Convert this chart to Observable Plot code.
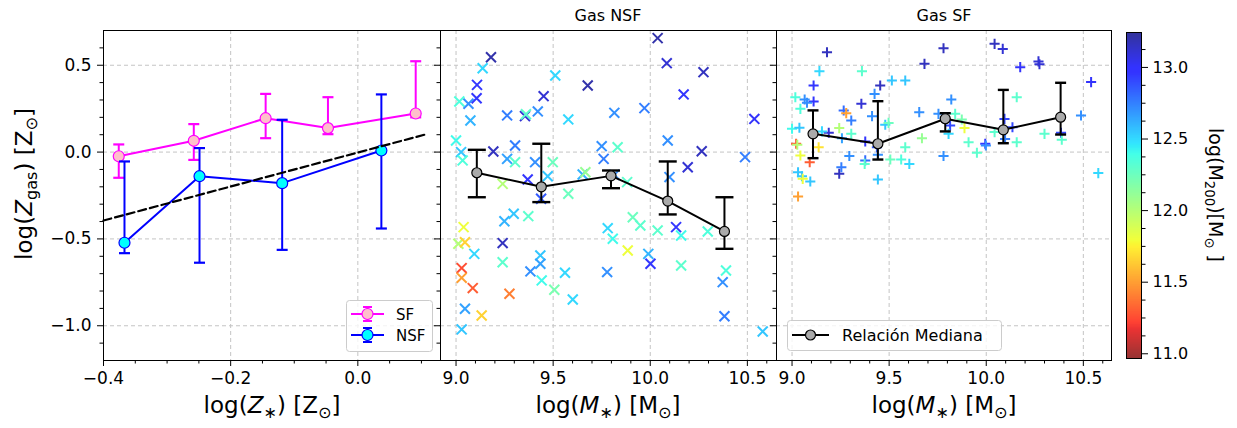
<!DOCTYPE html>
<html><head><meta charset="utf-8">
<script src="https://cdn.jsdelivr.net/npm/d3@7"></script>
<script src="https://cdn.jsdelivr.net/npm/@observablehq/plot@0.6"></script>
<style>
body{margin:0;background:#fff;font-family:"DejaVu Sans",sans-serif;}
#wrap{position:relative;width:1237px;height:428px;overflow:hidden;background:#fff;}
.lbl{position:absolute;white-space:nowrap;color:#000;line-height:1;font-family:"DejaVu Sans",sans-serif;}
.lbl sub{font-size:70%;vertical-align:baseline;position:relative;top:0.32em;}
</style></head><body><div id="wrap"></div><script>
// ---------- Left panel data: log(Z*) vs log(Zgas) ----------
const sfZstar = [-0.376, -0.258, -0.145, -0.047, 0.091];
const sfZgas  = [-0.024, 0.065, 0.195, 0.138, 0.222];
const sfLo    = [-0.148, -0.045, 0.080, 0.103, 0.200];
const sfHi    = [0.044, 0.161, 0.335, 0.316, 0.523];

const nsfZstar = [-0.367, -0.249, -0.119, 0.037];
const nsfZgas  = [-0.522, -0.139, -0.179, 0.009];
const nsfLo    = [-0.582, -0.637, -0.563, -0.440];
const nsfHi    = [-0.054, 0.023, 0.186, 0.332];

const refLineX = [-0.4, 0.11];
const refLineY = [-0.394, 0.105];

// ---------- Middle panel: Gas NSF scatter ----------
const nsfMass = [10.038,9.180,9.137,9.511,10.085,10.274,9.108,9.678,9.106,9.451,10.172,9.017,9.064,9.074,9.263,9.355,9.360,9.421,9.578,9.815,9.970,10.536,9.000,9.026,9.034,9.192,9.304,9.263,9.304,9.407,9.472,9.498,9.369,9.240,9.750,9.832,9.760,9.652,9.666,9.815,9.881,9.578,9.438,10.090,10.265,10.193,10.099,10.488,9.039,9.249,9.297,9.372,9.012,9.046,9.240,9.094,9.781,9.807,9.910,9.949,10.038,10.133,10.159,10.296,9.884,9.990,10.001,9.029,9.029,9.086,9.240,9.275,9.383,9.434,9.434,9.441,9.506,9.561,9.601,9.778,10.159,10.390,10.373,9.046,9.132,10.382,9.029,10.579];
const nsfGasZ = [0.656,0.546,0.483,0.441,0.512,0.460,0.387,0.383,0.310,0.322,0.332,0.291,0.278,0.182,0.211,0.207,0.218,0.234,0.188,0.226,0.253,0.191,0.067,0.000,-0.048,0.003,0.038,-0.039,-0.058,-0.058,-0.139,-0.058,-0.158,-0.183,0.034,0.028,-0.039,-0.129,-0.116,-0.131,-0.173,-0.240,-0.269,0.067,0.005,-0.087,-0.144,-0.029,-0.432,-0.398,-0.355,-0.369,-0.528,-0.519,-0.524,-0.586,-0.438,-0.499,-0.375,-0.423,-0.451,-0.432,-0.480,-0.457,-0.567,-0.586,-0.643,-0.668,-0.724,-0.783,-0.634,-0.816,-0.687,-0.595,-0.643,-0.739,-0.793,-0.695,-0.849,-0.691,-0.653,-0.682,-0.749,-0.902,-0.941,-0.945,-1.021,-1.033];
const nsfM200 = [13.2,13.2,12.5,12.5,13.1,13.15,12.95,13.2,12.95,13.1,12.95,12.35,12.7,12.6,12.75,13.1,12.3,12.7,12.5,12.7,12.75,13.0,12.4,12.55,12.35,13.15,12.75,12.65,12.3,12.7,12.55,12.25,12.95,12.0,12.7,12.3,12.75,12.6,12.1,12.7,12.3,12.25,12.85,12.7,13.15,13.1,12.7,12.75,11.8,12.6,12.55,12.3,12.0,11.65,13.15,12.5,12.5,12.4,12.25,12.3,12.3,12.95,12.4,12.35,11.8,12.6,12.95,11.25,11.5,11.3,12.3,11.4,12.7,12.55,12.65,12.4,12.2,12.5,12.5,12.7,12.3,12.35,12.7,12.65,11.65,12.75,12.55,12.55];

const nsfMedMass = [9.107, 9.439, 9.798, 10.090, 10.382];
const nsfMedZ    = [-0.119, -0.200, -0.137, -0.282, -0.457];
const nsfMedLo   = [-0.260, -0.288, -0.208, -0.359, -0.557];
const nsfMedHi   = [0.013, 0.048, -0.106, -0.054, -0.260];

// ---------- Right panel: Gas SF scatter ----------
const sfMass = [9.180,9.141,9.360,9.682,9.780,10.043,10.085,10.175,10.269,10.274,10.540,9.111,9.111,9.017,9.065,9.077,9.043,9.000,9.038,9.425,9.454,9.514,9.583,9.357,9.266,9.279,9.305,9.412,9.480,9.497,9.243,9.257,9.305,9.189,9.154,9.655,9.754,9.820,9.840,9.814,9.806,9.888,9.874,9.669,9.909,9.952,9.995,9.998,10.043,10.094,10.135,10.097,10.157,10.157,10.300,10.385,10.389,10.488,10.577,9.021,9.027,9.137,9.043,9.091,9.031,9.051,9.055,9.094,9.031,9.295,9.254,9.243,9.377,9.377,9.374,9.437,9.442,9.442,9.506,9.562,9.583,9.604,9.780];
const sfGasZ = [0.575,0.466,0.466,0.508,0.598,0.623,0.594,0.489,0.522,0.506,0.403,0.383,0.291,0.316,0.303,0.284,0.249,0.134,0.140,0.335,0.383,0.412,0.412,0.278,0.239,0.224,0.182,0.207,0.157,0.168,0.138,0.080,0.105,0.111,0.119,0.230,0.220,0.303,0.220,0.153,0.105,0.138,0.188,0.080,0.057,-0.004,0.048,0.038,0.115,0.191,0.143,0.076,0.316,0.057,0.105,0.111,0.071,0.211,-0.121,0.048,0.042,0.028,-0.020,-0.058,-0.116,-0.139,-0.154,-0.169,-0.256,-0.023,-0.087,-0.125,0.061,-0.048,-0.068,0.028,-0.016,-0.158,-0.043,-0.043,0.028,-0.068,-0.023];
const sfM200 = [13.15,12.5,12.3,13.15,13.15,13.15,13.1,13.0,13.1,13.1,13.0,12.95,12.95,12.35,12.7,12.7,12.35,12.4,12.55,12.7,13.15,12.55,12.55,13.1,12.8,11.5,12.75,12.7,12.55,12.25,12.0,12.65,12.3,13.1,12.5,12.7,12.7,12.7,12.3,12.9,12.5,11.8,12.2,12.1,12.3,12.3,12.95,12.7,12.3,12.9,12.9,12.75,12.3,12.3,12.3,12.9,12.3,12.7,12.5,11.3,12.0,11.7,11.8,11.3,12.55,12.55,11.8,12.55,11.5,12.7,12.75,13.15,12.95,12.8,12.3,12.85,12.7,12.55,12.25,12.35,12.3,12.5,12.7];

const sfMedMass = [9.108, 9.442, 9.789, 10.088, 10.383];
const sfMedZ    = [0.105, 0.048, 0.192, 0.128, 0.201];
const sfMedLo   = [-0.035, -0.043, 0.119, 0.051, 0.101];
const sfMedHi   = [0.240, 0.293, 0.224, 0.358, 0.399];

// ---------- Ticks ----------
const yMajor = [-1.0, -0.5, 0.0, 0.5];
const yMinor = [-1.1,-0.9,-0.8,-0.7,-0.6,-0.4,-0.3,-0.2,-0.1,0.1,0.2,0.3,0.4,0.6];
const zMajor = [-0.4, -0.2, 0.0];
const zMinor = [-0.35,-0.3,-0.25,-0.15,-0.1,-0.05,0.05,0.1];
const mMajor = [9.0, 9.5, 10.0, 10.5];
const mMinor = [9.1,9.2,9.3,9.4,9.6,9.7,9.8,9.9,10.1,10.2,10.3,10.4,10.6];
const cbMin = 10.967, cbMax = 13.244;
const cbMajor = [11.0, 11.5, 12.0, 12.5, 13.0];
const cbMinor = [11.125,11.25,11.375,11.625,11.75,11.875,12.125,12.25,12.375,12.625,12.75,12.875,13.125];

// ---------- helpers ----------
const zip = (xs, ys, extra = {}) => xs.map((x, i) => {
  const o = {x, y: ys[i]};
  for (const k in extra) o[k] = extra[k][i];
  return o;
});
const fmt = d => (d < 0 ? "\u2212" : "") + Math.abs(d).toFixed(1);
const blank = () => "";
const cap = {draw(ctx, size) { const w = Math.sqrt(size / Math.PI); ctx.moveTo(-w, 0); ctx.lineTo(w, 0); }};

function jet(t) {
  t = Math.max(0, Math.min(1, t));
  const seg = pts => {
    for (let i = 1; i < pts.length; i++) {
      if (t <= pts[i][0]) { const [a0, b0] = pts[i-1], [a1, b1] = pts[i]; return b0 + (b1 - b0) * (t - a0) / (a1 - a0); }
    }
    return pts[pts.length - 1][1];
  };
  const r = seg([[0,0],[0.35,0],[0.66,1],[0.89,1],[1,0.5]]);
  const g = seg([[0,0],[0.125,0],[0.375,1],[0.64,1],[0.91,0],[1,0]]);
  const b = seg([[0,0.5],[0.11,1],[0.34,1],[0.65,0],[1,0]]);
  const a = 0.8; // alpha over white
  const c = v => Math.round((v * a + (1 - a)) * 255);
  return `rgb(${c(r)},${c(g)},${c(b)})`;
}
const colorScale = {type: "linear", domain: [cbMin, cbMax], interpolate: t => jet(1 - t)};

const baseStyle = {fontFamily: "DejaVu Sans, sans-serif", fontSize: "17px", background: "transparent", overflow: "visible", color: "black"};
const gridOpts = {stroke: "#c4c4c4", strokeOpacity: 1, strokeDasharray: "4,3", strokeWidth: 1};
const TICK_BIG = 6, TICK_SMALL = 3.5;
const TICK_FS = 17;

const SF_C = "#ff00ff", NSF_C = "#0000ff";

const sfTab = zip(sfZstar, sfZgas, {lo: sfLo, hi: sfHi});
const nsfTab = zip(nsfZstar, nsfZgas, {lo: nsfLo, hi: nsfHi});
const refTab = zip(refLineX, refLineY);

function errMarks(tab, color, capR, markR, fill, lw) {
  return [
    Plot.ruleX(tab, {x: "x", y1: "lo", y2: "hi", stroke: color, strokeWidth: lw}),
    Plot.dot(tab, {x: "x", y: "lo", symbol: cap, r: capR, stroke: color, fill: "none", strokeWidth: 2.2}),
    Plot.dot(tab, {x: "x", y: "hi", symbol: cap, r: capR, stroke: color, fill: "none", strokeWidth: 2.2}),
    Plot.line(tab, {x: "x", y: "y", stroke: color, strokeWidth: 2}),
    Plot.dot(tab, {x: "x", y: "y", r: markR, fill: fill, stroke: color, strokeWidth: 1.2})
  ];
}

const wrap = document.getElementById("wrap");
function place(el, left, top) {
  el.style.position = "absolute"; el.style.left = left + "px"; el.style.top = top + "px";
  wrap.appendChild(el);
}

// ---------- Panel 1 ----------
const p1 = Plot.plot({
  width: 440, height: 428, marginLeft: 103, marginRight: 0, marginTop: 30, marginBottom: 68,
  x: {domain: [-0.4, 0.13]}, y: {domain: [-1.2, 0.7]},
  style: baseStyle,
  marks: [
    Plot.gridX(zMajor, gridOpts),
    Plot.gridY(yMajor, gridOpts),
    ...errMarks(sfTab, SF_C, 5.5, 5.5, "pink", 2),
    ...errMarks(nsfTab, NSF_C, 5.5, 5.5, "#00ffff", 2),
    Plot.line(refTab, {x: "x", y: "y", stroke: "black", strokeWidth: 2.2, strokeDasharray: "8,4"}),
    Plot.axisX(zMajor, {anchor: "bottom", tickSize: TICK_BIG, tickPadding: 5, tickFormat: fmt, fontSize: TICK_FS, label: null}),
    Plot.axisX(zMinor, {anchor: "bottom", tickSize: TICK_SMALL, tickFormat: blank, label: null}),
    Plot.axisY(yMajor, {anchor: "left", tickSize: TICK_BIG, tickPadding: 6, tickFormat: fmt, fontSize: TICK_FS, label: null}),
    Plot.axisY(yMinor, {anchor: "left", tickSize: TICK_SMALL, tickFormat: blank, label: null}),
    Plot.frame({stroke: "black", strokeWidth: 1})
  ]
});
place(p1, 0, 0);

// ---------- Scatter panels ----------
function scatterPanel(mass, gz, m200, symbol, r, medMass, medZ, medLo, medHi, capR, xDomain, width) {
  const pts = zip(mass, gz, {c: m200});
  const med = zip(medMass, medZ, {lo: medLo, hi: medHi});
  return Plot.plot({
    width, height: 428, marginLeft: 40, marginRight: 0, marginTop: 30, marginBottom: 68,
    x: {domain: xDomain}, y: {domain: [-1.2, 0.7]}, color: colorScale,
    style: baseStyle,
    marks: [
      Plot.gridX(mMajor, gridOpts),
      Plot.gridY(yMajor, gridOpts),
      Plot.dot(pts, {x: "x", y: "y", symbol, r, stroke: "c", fill: "none", strokeWidth: 2}),
      Plot.ruleX(med, {x: "x", y1: "lo", y2: "hi", stroke: "black", strokeWidth: 2}),
      Plot.dot(med, {x: "x", y: "lo", symbol: cap, r: capR, stroke: "black", fill: "none", strokeWidth: 2.4}),
      Plot.dot(med, {x: "x", y: "hi", symbol: cap, r: capR, stroke: "black", fill: "none", strokeWidth: 2.4}),
      Plot.line(med, {x: "x", y: "y", stroke: "black", strokeWidth: 2}),
      Plot.dot(med, {x: "x", y: "y", r: 5, fill: "#aaaaaa", stroke: "black", strokeWidth: 1.2}),
      Plot.axisX(mMajor, {anchor: "bottom", tickSize: TICK_BIG, tickPadding: 5, tickFormat: fmt, fontSize: TICK_FS, label: null}),
      Plot.axisX(mMinor, {anchor: "bottom", tickSize: TICK_SMALL, tickFormat: blank, label: null}),
      Plot.axisY(yMajor, {anchor: "left", tickSize: TICK_BIG, tickFormat: blank, label: null}),
      Plot.axisY(yMinor, {anchor: "left", tickSize: TICK_SMALL, tickFormat: blank, label: null}),
      Plot.frame({stroke: "black", strokeWidth: 1})
    ]
  });
}
const p2 = scatterPanel(nsfMass, nsfGasZ, nsfM200, "times", 4.6, nsfMedMass, nsfMedZ, nsfMedLo, nsfMedHi, 9, [8.92, 10.65], 376);
place(p2, 400, 0);
const p3 = scatterPanel(sfMass, sfGasZ, sfM200, "plus", 3.35, sfMedMass, sfMedZ, sfMedLo, sfMedHi, 5.5, [8.92, 10.645], 375);
place(p3, 736, 0);

// ---------- Colorbar ----------
const cbStep = 0.005;
const cbCells = d3.range(cbMin, cbMax, cbStep);
const cb = Plot.plot({
  width: 137, height: 428, marginLeft: 26, marginRight: 96, marginTop: 32, marginBottom: 70,
  x: {domain: [0, 1], axis: null}, y: {domain: [cbMin, cbMax]}, color: colorScale,
  style: baseStyle,
  marks: [
    Plot.rect(cbCells, {x1: 0, x2: 1, y1: d => d, y2: d => Math.min(cbMax, d + cbStep), fill: d => d, shapeRendering: "crispEdges"}),
    Plot.axisY(cbMajor, {anchor: "right", tickSize: TICK_BIG, tickPadding: 5, tickFormat: fmt, fontSize: 16, label: null}),
    Plot.axisY(cbMinor, {anchor: "right", tickSize: TICK_SMALL, tickFormat: blank, label: null}),
    Plot.frame({stroke: "black", strokeWidth: 1})
  ]
});
place(cb, 1100, 0);

// ---------- Legends ----------
const legL = document.createElement("div");
legL.innerHTML = `<svg width="90" height="56" style="overflow:visible;font-family:'DejaVu Sans',sans-serif">
  <rect x="0.5" y="0.5" width="86" height="51" rx="3" fill="white" fill-opacity="0.8" stroke="#cccccc"/>
  <g stroke="${SF_C}" stroke-width="2">
    <line x1="5" y1="14" x2="38" y2="14"/><line x1="21.5" y1="7" x2="21.5" y2="21"/>
    <line x1="17" y1="7" x2="26" y2="7"/><line x1="17" y1="21" x2="26" y2="21"/>
  </g>
  <circle cx="21.5" cy="14" r="5.5" fill="pink" stroke="${SF_C}" stroke-width="1.2"/>
  <text x="50" y="19.5" font-size="15">SF</text>
  <g stroke="${NSF_C}" stroke-width="2">
    <line x1="5" y1="35" x2="38" y2="35"/><line x1="21.5" y1="28" x2="21.5" y2="42"/>
    <line x1="17" y1="28" x2="26" y2="28"/><line x1="17" y1="42" x2="26" y2="42"/>
  </g>
  <circle cx="21.5" cy="35" r="5.5" fill="#00ffff" stroke="${NSF_C}" stroke-width="1.2"/>
  <text x="50" y="40.5" font-size="15">NSF</text>
</svg>`;
place(legL, 345.5, 300);

const legR = document.createElement("div");
legR.innerHTML = `<svg width="216" height="32" style="overflow:visible;font-family:'DejaVu Sans',sans-serif">
  <rect x="0.5" y="0.5" width="214" height="30" rx="3" fill="white" fill-opacity="0.8" stroke="#cccccc"/>
  <line x1="5" y1="15" x2="42" y2="15" stroke="black" stroke-width="2"/>
  <circle cx="23.5" cy="15" r="5" fill="#aaaaaa" stroke="black" stroke-width="1.2"/>
  <text x="55" y="20.5" font-size="16">Relación Mediana</text>
</svg>`;
place(legR, 786.5, 319.5);

// ---------- Text labels ----------
function label(html, cx, cy, size, rot) {
  const d = document.createElement("div");
  d.className = "lbl";
  d.innerHTML = html;
  d.style.left = cx + "px"; d.style.top = cy + "px"; d.style.fontSize = size + "px";
  d.style.transform = `translate(-50%,-50%)` + (rot ? ` rotate(${rot}deg)` : "");
  wrap.appendChild(d);
}
label("Gas NSF", 608, 16, 16, 0);
label("Gas SF", 944, 16, 16, 0);
label("log(<i>Z</i><sub>∗</sub>) [Z<sub>⊙</sub>]", 272, 405, 23, 0);
label("log(<i>M</i><sub>∗</sub>) [M<sub>⊙</sub>]", 608, 405, 23, 0);
label("log(<i>M</i><sub>∗</sub>) [M<sub>⊙</sub>]", 944, 405, 23, 0);
label("log(<i>Z</i><sub>gas</sub>) [Z<sub>⊙</sub>]", 24, 184, 23, -90);
label("log(M<sub>200</sub>)[M<sub>⊙</sub> ]", 1215, 195, 19, 90);
</script></body></html>
